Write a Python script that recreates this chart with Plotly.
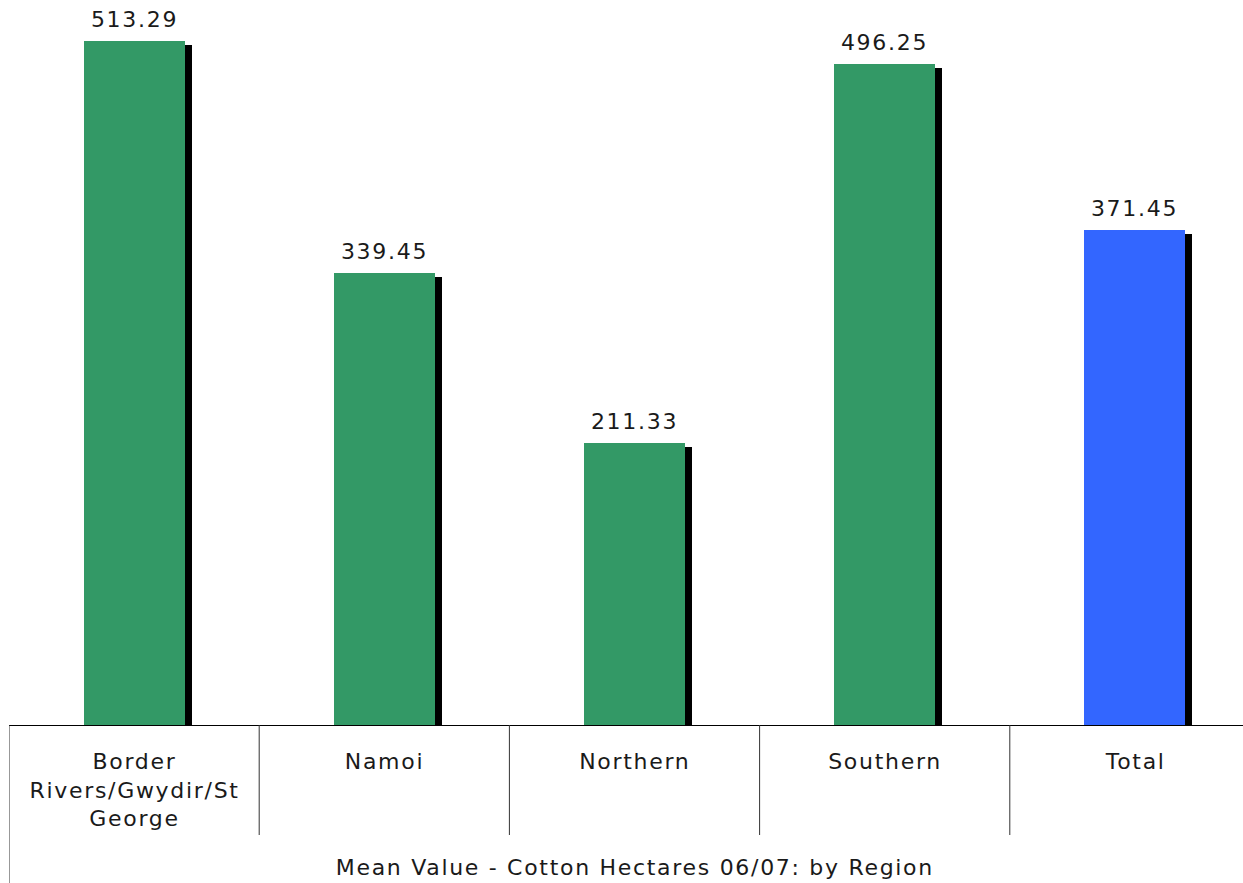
import plotly.graph_objects as go

categories = ["Border<br>Rivers/Gwydir/St<br>George", "Namoi", "Northern", "Southern", "Total"]
values = [513.29, 339.45, 211.33, 496.25, 371.45]
value_labels = ["513.29", "339.45", "211.33", "496.25", "371.45"]
bar_colors = ["#339966", "#339966", "#339966", "#339966", "#3366FF"]
title_text = "Mean Value - Cotton Hectares 06/07: by Region"

W, H = 1243, 883
ML, MB = 9, 158
plot_w = W - ML
plot_h = H - MB
cat_px = 250.2
px_per_unit = 1.3326

x_idx = list(range(len(categories)))
x_max = -0.5 + plot_w / cat_px
y_max = plot_h / px_per_unit

bar_w = 101 / cat_px
shadow_dx = 7 / cat_px
shadow_dy = 4 / px_per_unit

FONT = "DejaVu Sans"
TXT = "#1a1a1a"
FS = 22

fig = go.Figure()
fig.add_trace(go.Bar(
    x=x_idx, y=[v - shadow_dy for v in values],
    width=bar_w, offset=-bar_w / 2 + shadow_dx,
    marker=dict(color="black", line=dict(width=0)),
    hoverinfo="skip", showlegend=False,
))
fig.add_trace(go.Bar(
    x=x_idx, y=values,
    width=bar_w, offset=-bar_w / 2,
    marker=dict(color=bar_colors, line=dict(width=0)),
    showlegend=False,
))

annotations = []
for i, (v, lab) in enumerate(zip(values, value_labels)):
    annotations.append(dict(
        x=i, y=v, xref="x", yref="y", text=lab, showarrow=False,
        yanchor="bottom", yshift=7, font=dict(family=FONT, size=FS, color=TXT),
    ))
for i, c in enumerate(categories):
    annotations.append(dict(
        x=i, y=0, xref="x", yref="paper", text=c, showarrow=False,
        yanchor="top", yshift=-22, font=dict(family=FONT, size=FS, color=TXT),
    ))
annotations.append(dict(
    x=(len(categories) - 1) / 2, y=0, xref="x", yref="paper", text=title_text,
    showarrow=False, yanchor="middle", yshift=-142,
    font=dict(family=FONT, size=FS, color=TXT),
))

shapes = []
for i in range(len(categories) - 1):
    b = i + 0.5
    shapes.append(dict(type="line", xref="x", yref="paper", x0=b, x1=b,
                       y0=0, y1=-110 / plot_h, line=dict(color="#333333", width=1)))
shapes.append(dict(type="line", xref="x", yref="paper", x0=-0.5, x1=-0.5,
                   y0=0, y1=-MB / plot_h, line=dict(color="#333333", width=1)))

fig.update_layout(
    width=W, height=H,
    margin=dict(l=ML, r=0, t=0, b=MB, pad=0),
    paper_bgcolor="white", plot_bgcolor="white",
    barmode="overlay", bargap=0,
    annotations=annotations, shapes=shapes,
    xaxis=dict(range=[-0.5, x_max], showticklabels=False, showgrid=False,
               zeroline=False, showline=True, linecolor="black", linewidth=1,
               ticks="", fixedrange=True),
    yaxis=dict(range=[0, y_max], visible=False, showgrid=False, zeroline=False,
               fixedrange=True),
)

post = (
    "document.body.style.margin='0';document.body.style.overflow='hidden';"
    "document.querySelectorAll('.annotation-text').forEach(function(t){"
    "t.style.letterSpacing='1.7px';});"
)

fig.write_html("out.html", config={"displayModeBar": False}, post_script=post)
